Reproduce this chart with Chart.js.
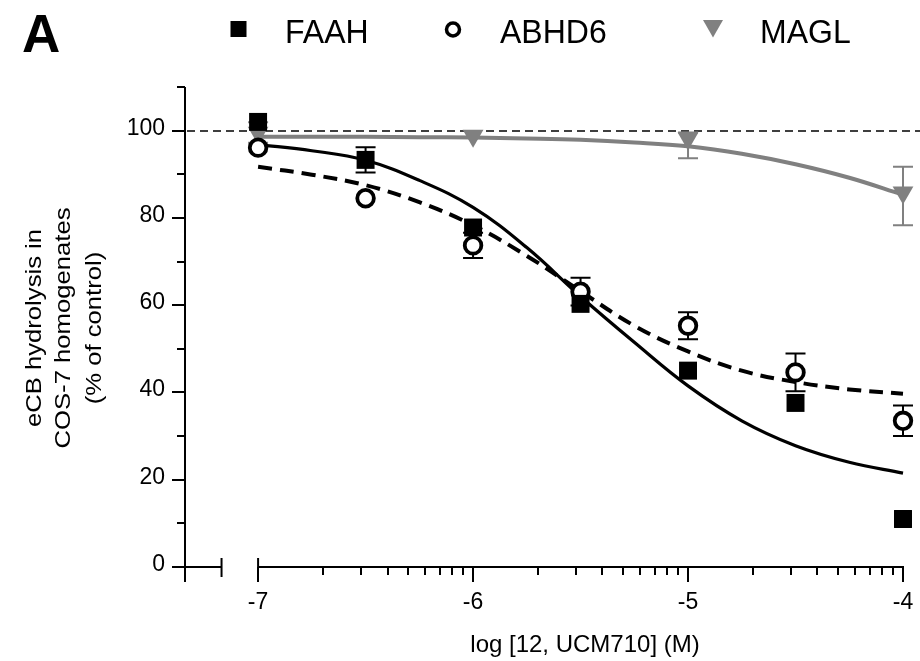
<!DOCTYPE html>
<html>
<head>
<meta charset="utf-8">
<script src="https://cdn.jsdelivr.net/npm/chart.js@4.4.1/dist/chart.umd.min.js"></script>
<style>
  html, body { margin: 0; padding: 0; background: #ffffff; }
  #wrap { width: 920px; height: 661px; }
</style>
</head>
<body>
<div id="wrap"><canvas id="c" width="920" height="661"></canvas></div>
<script>
// ---------------- data ----------------
const doses = [-7, -6.5, -6, -5.5, -5, -4.5, -4];
const faahMean = [102.0, 93.3, 77.8, 60.3, 45.0, 37.6, 11.0];
const faahSem = [0, 2.9, 0, 0, 0, 0, 0];
const abhd6Mean = [96.1, 84.5, 73.7, 63.1, 55.3, 44.6, 33.5];
const abhd6Sem = [0, 0, 2.9, 3.2, 3.1, 4.3, 3.5];
const maglDoses = [-7, -6, -5, -4];
const maglMean = [99.5, 98.8, 98.2, 85.8];
const maglLow = [97.2, 98.8, 93.7, 78.3];
const maglHigh = [101.9, 98.8, 99.6, 91.7];

// fitted curves
const fitX = [-7, -6.75, -6.5, -6.25, -6, -5.75, -5.5, -5.25, -5, -4.75, -4.5, -4.25, -4];
const faahFit = [96.8, 95.4, 93.2, 88.6, 82.4, 73.2, 62.0, 51.5, 41.5, 33.5, 27.8, 24.0, 21.5];
const abhd6Fit = [91.7, 89.9, 87.5, 83.6, 78.3, 71.3, 63.2, 55.3, 49.4, 45.0, 42.4, 40.7, 39.7];
const maglFit = [98.6, 98.6, 98.6, 98.5, 98.4, 98.2, 97.9, 97.3, 96.4, 94.7, 92.3, 89.2, 85.3];

// axes
const xRange = [-7.34, -4];
const yRange = [0, 110];
const xMajorTicks = [-7, -6, -5, -4];
const xTickLabels = ['-7', '-6', '-5', '-4'];
const xDecades = [-7, -6, -5];
const xBreak = [-7.17, -7];
const yMajorTicks = [0, 20, 40, 60, 80, 100];
const yMinorTicks = [10, 30, 50, 70, 90, 110];
const controlLevel = 100;

const seriesNames = ['FAAH', 'ABHD6', 'MAGL'];
const panelLetter = 'A';
const yTitleLines = ['eCB hydrolysis in', 'COS-7 homogenates', '(% of control)'];
const xTitle = 'log [12, UCM710] (M)';

const GRAY = '#808080';
const FONT = '"Liberation Sans", Arial, Helvetica, sans-serif';

const pts = (xs, ys) => xs.map((x, i) => ({ x: x, y: ys[i] }));

// ---------------- plugins ----------------
const axesPlugin = {
  id: 'axesPlugin',
  beforeDatasetsDraw(chart) {
    const ctx = chart.ctx, xs = chart.scales.x, ys = chart.scales.y;
    const x0 = xs.getPixelForValue(xRange[0]);
    const y0 = ys.getPixelForValue(0);
    const yTop = ys.getPixelForValue(yRange[1]);
    ctx.save();
    ctx.strokeStyle = '#000';
    ctx.lineWidth = 2;
    ctx.lineCap = 'butt';
    // y axis
    ctx.beginPath();
    ctx.moveTo(x0, yTop); ctx.lineTo(x0, y0 + 15);
    ctx.stroke();
    yMajorTicks.forEach(v => {
      const p = Math.round(ys.getPixelForValue(v));
      ctx.beginPath(); ctx.moveTo(x0 - 13, p); ctx.lineTo(x0, p); ctx.stroke();
    });
    yMinorTicks.forEach(v => {
      const p = Math.round(ys.getPixelForValue(v));
      ctx.beginPath(); ctx.moveTo(x0 - 8, p); ctx.lineTo(x0, p); ctx.stroke();
    });
    // x axis with break
    const bA = xs.getPixelForValue(xBreak[0]);
    const bB = xs.getPixelForValue(xBreak[1]);
    const xEnd = xs.getPixelForValue(xRange[1]);
    ctx.beginPath(); ctx.moveTo(x0, y0); ctx.lineTo(bA, y0); ctx.stroke();
    ctx.beginPath(); ctx.moveTo(bA, y0 - 9); ctx.lineTo(bA, y0 + 10); ctx.stroke();
    ctx.beginPath(); ctx.moveTo(bB, y0); ctx.lineTo(xEnd + 1, y0); ctx.stroke();
    ctx.beginPath(); ctx.moveTo(bB, y0 - 9); ctx.lineTo(bB, y0); ctx.stroke();
    xMajorTicks.forEach(v => {
      const p = Math.round(xs.getPixelForValue(v));
      ctx.beginPath(); ctx.moveTo(p, y0); ctx.lineTo(p, y0 + 15); ctx.stroke();
    });
    xDecades.forEach(d => {
      for (let k = 2; k <= 9; k++) {
        const p = Math.round(xs.getPixelForValue(d + Math.log10(k)));
        ctx.beginPath(); ctx.moveTo(p, y0); ctx.lineTo(p, y0 + 8); ctx.stroke();
      }
    });
    // control line at 100 %
    const yc = Math.round(ys.getPixelForValue(controlLevel));
    ctx.lineWidth = 1.6;
    ctx.setLineDash([8, 5]);
    ctx.beginPath(); ctx.moveTo(x0 + 2, yc); ctx.lineTo(chart.width, yc); ctx.stroke();
    ctx.setLineDash([]);

    // tick labels
    ctx.fillStyle = '#000';
    ctx.font = '23px ' + FONT;
    ctx.textAlign = 'right';
    ctx.textBaseline = 'alphabetic';
    yMajorTicks.forEach(v => {
      const p = ys.getPixelForValue(v);
      ctx.fillText(String(v), x0 - 20, p + 4);
    });
    ctx.textAlign = 'center';
    xMajorTicks.forEach((v, i) => {
      const p = xs.getPixelForValue(v);
      ctx.fillText(xTickLabels[i], p, 609);
    });
    // axis titles
    ctx.font = '24px ' + FONT;
    ctx.fillText(xTitle, 585, 652);
    const yMid = (ys.getPixelForValue(0) + ys.getPixelForValue(yRange[1])) / 2 + 1;
    const lineX = [41, 70, 101];
    ctx.font = '22.5px ' + FONT;
    yTitleLines.forEach((t, i) => {
      ctx.save();
      ctx.translate(lineX[i], yMid);
      ctx.rotate(-Math.PI / 2);
      ctx.scale(1.14, 1);
      ctx.textAlign = 'center';
      ctx.fillText(t, 0, 0);
      ctx.restore();
    });
    ctx.restore();
  },
  beforeDatasetDraw(chart, args) {
    // error bars for the marker datasets, drawn under their own symbols
    const ds = chart.data.datasets[args.index];
    if (!ds.errLow) return;
    const ctx = chart.ctx, xs = chart.scales.x, ys = chart.scales.y;
    ctx.save();
    ctx.strokeStyle = ds.errColor;
    ctx.lineWidth = 2;
    ds.data.forEach((p, i) => {
      if (ds.errHigh[i] - ds.errLow[i] <= 0) return;
      const px = xs.getPixelForValue(p.x);
      const lo = ys.getPixelForValue(ds.errLow[i]);
      const hi = ys.getPixelForValue(ds.errHigh[i]);
      ctx.beginPath();
      ctx.moveTo(px, lo); ctx.lineTo(px, hi);
      ctx.moveTo(px - 10, lo); ctx.lineTo(px + 10, lo);
      ctx.moveTo(px - 10, hi); ctx.lineTo(px + 10, hi);
      ctx.stroke();
    });
    ctx.restore();
  },
  afterDraw(chart) {
    const ctx = chart.ctx;
    ctx.save();
    ctx.fillStyle = '#000';
    ctx.textAlign = 'left';
    ctx.textBaseline = 'alphabetic';
    ctx.font = 'bold 53px ' + FONT;
    ctx.fillText(panelLetter, 22, 52);
    // legend
    const textX = [285, 500, 760];
    ctx.font = '32px ' + FONT;
    seriesNames.forEach((n, i) => {
      ctx.save();
      ctx.translate(textX[i], 43);
      ctx.scale(1, 1.06);
      ctx.fillText(n, 0, 0);
      ctx.restore();
    });
    // legend symbols
    ctx.fillStyle = '#000';
    ctx.fillRect(230.5, 21, 16, 16);
    ctx.strokeStyle = '#000';
    ctx.lineWidth = 3.5;
    ctx.beginPath(); ctx.arc(453, 29.5, 6.5, 0, Math.PI * 2); ctx.stroke();
    ctx.fillStyle = GRAY;
    ctx.beginPath();
    ctx.moveTo(703, 20); ctx.lineTo(723, 20); ctx.lineTo(713, 37.5); ctx.closePath();
    ctx.fill();
    ctx.restore();
  }
};

// ---------------- chart ----------------
const faahErrLow = faahMean.map((m, i) => m - faahSem[i]);
const faahErrHigh = faahMean.map((m, i) => m + faahSem[i]);
const abErrLow = abhd6Mean.map((m, i) => m - abhd6Sem[i]);
const abErrHigh = abhd6Mean.map((m, i) => m + abhd6Sem[i]);

new Chart(document.getElementById('c'), {
  type: 'line',
  data: {
    datasets: [
      {
        label: 'FAAH', data: pts(doses, faahMean), showLine: false, order: 0,
        pointStyle: 'rect', pointRadius: 12.7, pointBackgroundColor: '#000',
        pointBorderWidth: 0, pointBorderColor: '#000',
        errLow: faahErrLow, errHigh: faahErrHigh, errColor: '#000', clip: false
      },
      {
        label: 'ABHD6', data: pts(doses, abhd6Mean), showLine: false, order: 0,
        pointStyle: 'circle', pointRadius: 8.3, pointBackgroundColor: '#fff',
        pointBorderWidth: 3.8, pointBorderColor: '#000',
        errLow: abErrLow, errHigh: abErrHigh, errColor: '#000', clip: false
      },
      {
        label: 'MAGL', data: pts(maglDoses, maglMean), showLine: false, order: 0,
        pointStyle: 'triangle', pointRotation: 180, pointRadius: 12, pointBackgroundColor: GRAY,
        pointBorderWidth: 0, pointBorderColor: GRAY,
        errLow: maglLow, errHigh: maglHigh, errColor: GRAY, clip: false
      },
      {
        label: 'FAAH fit', data: pts(fitX, faahFit), order: 1,
        borderColor: '#000', borderWidth: 3.2, pointRadius: 0,
        tension: 0.4, fill: false, clip: false
      },
      {
        label: 'ABHD6 fit', data: pts(fitX, abhd6Fit), order: 1,
        borderColor: '#000', borderWidth: 4, borderDash: [14, 8], pointRadius: 0,
        tension: 0.4, fill: false, clip: false
      },
      {
        label: 'MAGL fit', data: pts(fitX, maglFit), order: 1,
        borderColor: GRAY, borderWidth: 4, pointRadius: 0,
        tension: 0.4, fill: false, clip: false
      }
    ]
  },
  options: {
    responsive: false,
    animation: false,
    devicePixelRatio: 1,
    layout: { padding: { left: 185, right: 17, top: 87, bottom: 94 } },
    scales: {
      x: { type: 'linear', min: xRange[0], max: xRange[1], display: false },
      y: { type: 'linear', min: yRange[0], max: yRange[1], display: false }
    },
    plugins: { legend: { display: false }, tooltip: { enabled: false }, title: { display: false } },
    events: []
  },
  plugins: [axesPlugin]
});
</script>
</body>
</html>
